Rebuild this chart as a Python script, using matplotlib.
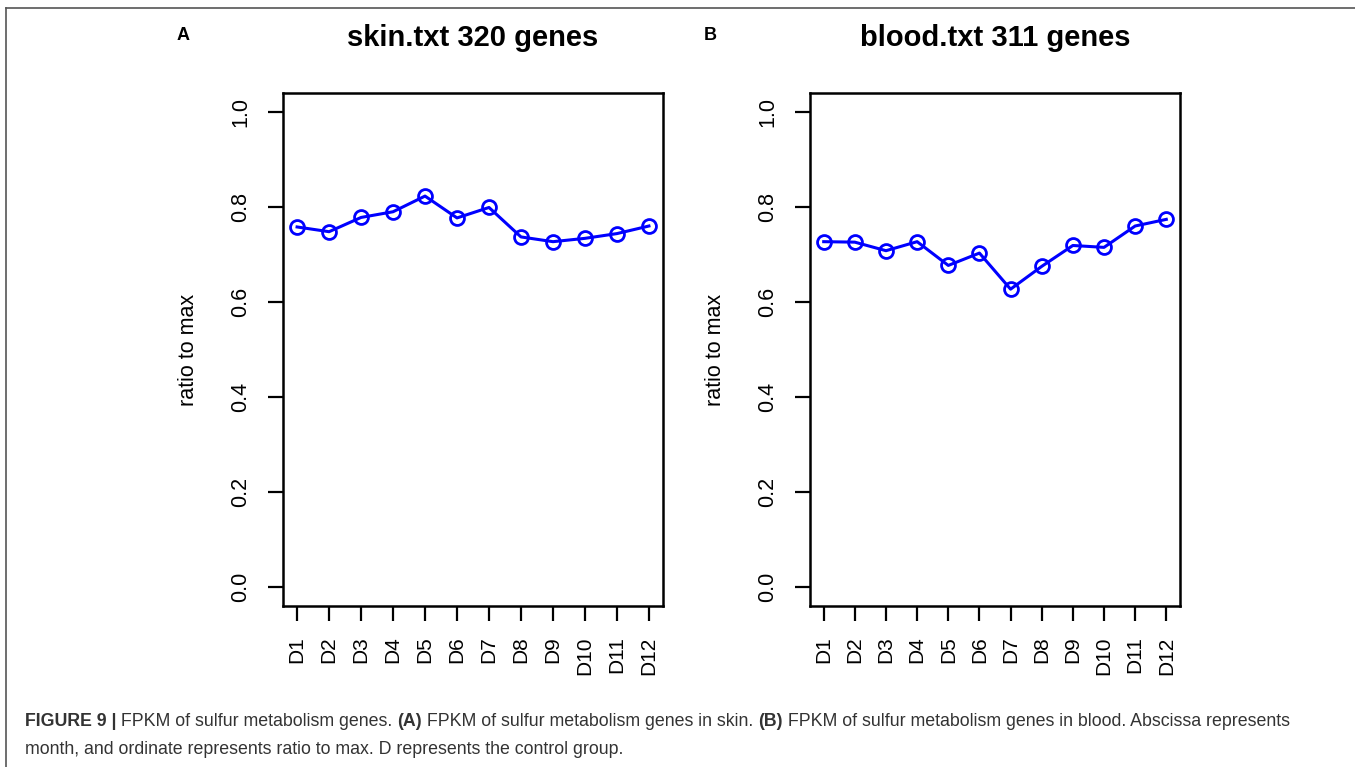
import matplotlib
matplotlib.use('Agg')
from matplotlib import pyplot as plt
from matplotlib.lines import Line2D
import numpy as np

plt.rcParams['font.family'] = ['Liberation Sans', 'DejaVu Sans']

months = ['D1', 'D2', 'D3', 'D4', 'D5', 'D6', 'D7', 'D8', 'D9', 'D10', 'D11', 'D12']
skin = [0.758, 0.748, 0.778, 0.790, 0.823, 0.777, 0.799, 0.737, 0.727, 0.734, 0.744, 0.760]
blood = [0.727, 0.726, 0.708, 0.727, 0.677, 0.703, 0.627, 0.675, 0.719, 0.715, 0.760, 0.774]

# panel letter, title, values, box (left, top, right, bottom) in px
panels = [
    ('A', 'skin.txt 320 genes', skin, [283, 93, 663, 606]),
    ('B', 'blood.txt 311 genes', blood, [810, 93, 1180, 606]),
]

W, H = 1355, 767
fig = plt.figure(figsize=(W / 100, H / 100), dpi=100)

x = np.arange(1, len(months) + 1)

for letter, title, vals, (l, t, r, b) in panels:
    ax = fig.add_axes([l / W, 1 - b / H, (r - l) / W, (b - t) / H])
    ax.plot(x, vals, color='#0000ff', lw=2.2, marker='o', ms=10,
            mfc='none', mec='#0000ff', mew=2)
    ax.set_xlim(0.56, 12.44)
    ax.set_ylim(-0.04, 1.04)
    ax.set_xticks(x)
    ax.set_xticklabels(months, rotation=90, fontsize=15)
    ax.set_yticks([0.0, 0.2, 0.4, 0.6, 0.8, 1.0])
    ax.set_yticklabels(['0.0', '0.2', '0.4', '0.6', '0.8', '1.0'],
                       rotation=90, va='center', fontsize=15.5)
    ax.tick_params(length=10.8, width=1.6)
    ax.tick_params(axis='x', pad=11)
    ax.tick_params(axis='y', pad=12)
    for s in ax.spines.values():
        s.set_linewidth(1.8)

    fig.text((l - 94) / W, 1 - (t + b) / 2 / H, 'ratio to max',
             rotation=90, ha='center', va='center', fontsize=15.5)
    fig.text((l + r) / 2 / W, 1 - 38 / H, title, ha='center', va='center',
             fontsize=21, fontweight='bold')
    fig.text((l - 100) / W, 1 - 35 / H, letter, ha='center', va='center',
             fontsize=13, fontweight='bold')

# border lines around the figure
fig.add_artist(Line2D([6 / W, 1], [1 - 8 / H, 1 - 8 / H], color='#555555', lw=1.2,
                      transform=fig.transFigure))
fig.add_artist(Line2D([6 / W, 6 / W], [0, 1 - 8 / H], color='#555555', lw=1.2,
                      transform=fig.transFigure))

# caption with bold parts
cap_color = '#333333'
lines = [
    [('FIGURE 9 |', True), (' FPKM of sulfur metabolism genes. ', False), ('(A)', True),
     (' FPKM of sulfur metabolism genes in skin. ', False), ('(B)', True),
     (' FPKM of sulfur metabolism genes in blood. Abscissa represents', False)],
    [('month, and ordinate represents ratio to max. D represents the control group.', False)],
]
renderer = fig.canvas.get_renderer()
for i, segs in enumerate(lines):
    xpos = 25
    ypos = 1 - (726 + i * 28) / H
    for txt, bold in segs:
        tt = fig.text(xpos / W, ypos, txt, ha='left', va='baseline', fontsize=12.8,
                      color=cap_color, fontweight='bold' if bold else 'normal')
        bb = tt.get_window_extent(renderer)
        xpos += bb.width

fig.savefig('out.png', dpi=100)
